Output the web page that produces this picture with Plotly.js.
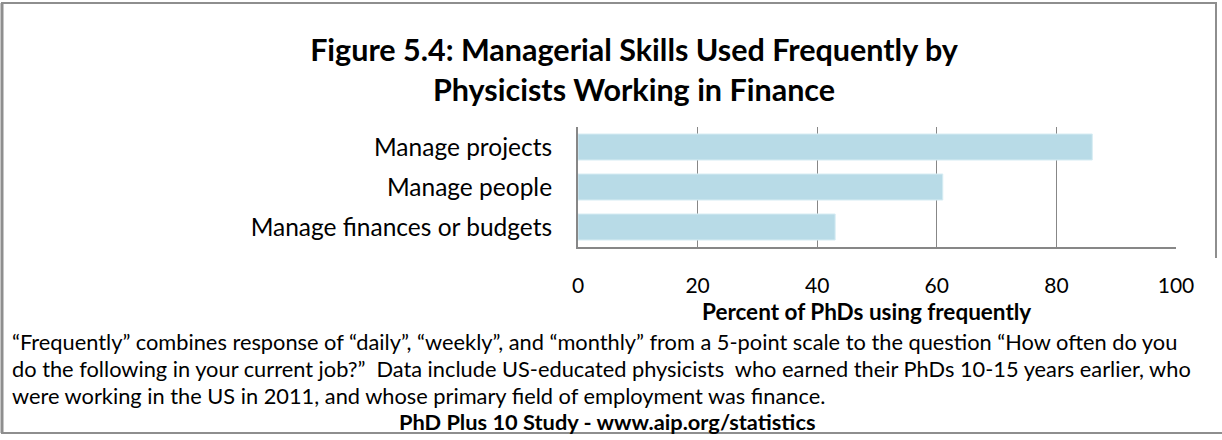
<!DOCTYPE html>
<html>
<head>
<meta charset="utf-8">
<script src="https://cdn.plot.ly/plotly-3.0.1.min.js"></script>
<style>
html,body{margin:0;padding:0;background:#fff;}
#chart{width:1222px;height:440px;}
</style>
</head>
<body>
<div id="chart"></div>
<script>
const categories = ["Manage projects", "Manage people", "Manage finances or budgets"];
const values = [86, 61, 43];
const xTickVals = [0, 20, 40, 60, 80, 100];
const xTickText = ["0", "20", "40", "60", "80", "100"];
const titleLines = ["Figure 5.4: Managerial Skills Used Frequently by", "Physicists Working in Finance"];
const xAxisTitle = "Percent of PhDs using frequently";
const noteLines = [
  "\u201cFrequently\u201d combines response of \u201cdaily\u201d, \u201cweekly\u201d, and \u201cmonthly\u201d from a 5-point scale to the question \u201cHow often do you",
  "do the following in your current job?\u201d  Data include US-educated physicists  who earned their PhDs 10-15 years earlier, who",
  "were working in the US in 2011, and whose primary field of employment was finance."
];
const sourceLine = "PhD Plus 10 Study - www.aip.org/statistics";

const W = 1222, H = 440;
const M = {l: 578, r: 46, t: 127, b: 193};
const pw = W - M.l - M.r, ph = H - M.t - M.b;
const px = x => (x - M.l) / pw;
const py = y => (H - M.b - y) / ph;

const FONT = "Lato, 'Open Sans', sans-serif";
const GRAY = "#878787";
const FRAME = "#8e8e8e";

const trace = {
  type: "bar",
  orientation: "h",
  y: categories,
  x: values,
  marker: {color: "#b8dbe7", line: {color: "#d6ecf3", width: 1}},
  hoverinfo: "x+y"
};

const annotations = [];
const noteY = [341, 368, 395];
noteLines.forEach((t, i) => {
  annotations.push({
    text: t, xref: "paper", yref: "paper", x: px(10), y: py(noteY[i]),
    xanchor: "left", yanchor: "middle", showarrow: false, align: "left",
    font: {family: FONT, size: 21.8, color: "#000"}
  });
});
annotations.push({
  text: "<b>" + sourceLine + "</b>", xref: "paper", yref: "paper", x: px(607), y: py(421),
  xanchor: "center", yanchor: "middle", showarrow: false,
  font: {family: FONT, size: 21.8, color: "#000"}
});
annotations.push({
  text: "<b>" + xAxisTitle + "</b>", xref: "paper", yref: "paper", x: px(866), y: py(311),
  xanchor: "center", yanchor: "middle", showarrow: false,
  font: {family: FONT, size: 22.5, color: "#000"}
});

const shapes = [
  {type: "line", xref: "paper", yref: "paper", x0: px(2), x1: px(2), y0: py(3), y1: py(433), line: {color: FRAME, width: 3}},
  {type: "line", xref: "paper", yref: "paper", x0: px(1), x1: px(1217), y0: py(3), y1: py(3), line: {color: FRAME, width: 2}},
  {type: "line", xref: "paper", yref: "paper", x0: px(1), x1: px(1222), y0: py(433), y1: py(433), line: {color: FRAME, width: 2}},
  {type: "line", xref: "paper", yref: "paper", x0: px(1216), x1: px(1216), y0: py(3), y1: py(258), line: {color: FRAME, width: 2}}
];

const layout = {
  width: W, height: H,
  margin: M,
  paper_bgcolor: "#fff", plot_bgcolor: "#fff",
  showlegend: false,
  bargap: 0.35,
  title: {
    text: "<b>" + titleLines.join("<br>") + "</b>",
    xref: "container", yref: "container",
    x: 634 / W, xanchor: "center",
    y: 1 - 61 / H, yanchor: "top",
    font: {family: FONT, size: 30.5, color: "#000"}
  },
  xaxis: {
    range: [0, 100], tickvals: xTickVals, ticktext: xTickText,
    showgrid: true, gridcolor: GRAY, gridwidth: 1.3,
    showline: true, linecolor: GRAY, linewidth: 2,
    zeroline: false, ticks: "", ticklabelstandoff: 19,
    tickfont: {family: FONT, size: 21, color: "#000"},
    fixedrange: true
  },
  yaxis: {
    autorange: "reversed", type: "category",
    showgrid: false, showline: true, linecolor: GRAY, linewidth: 2,
    zeroline: false, ticks: "", ticklabelstandoff: 19,
    tickfont: {family: FONT, size: 24.5, color: "#000"},
    fixedrange: true
  },
  annotations: annotations,
  shapes: shapes,
  font: {family: FONT}
};

Plotly.newPlot("chart", [trace], layout, {displayModeBar: false, staticPlot: true});
</script>
</body>
</html>
